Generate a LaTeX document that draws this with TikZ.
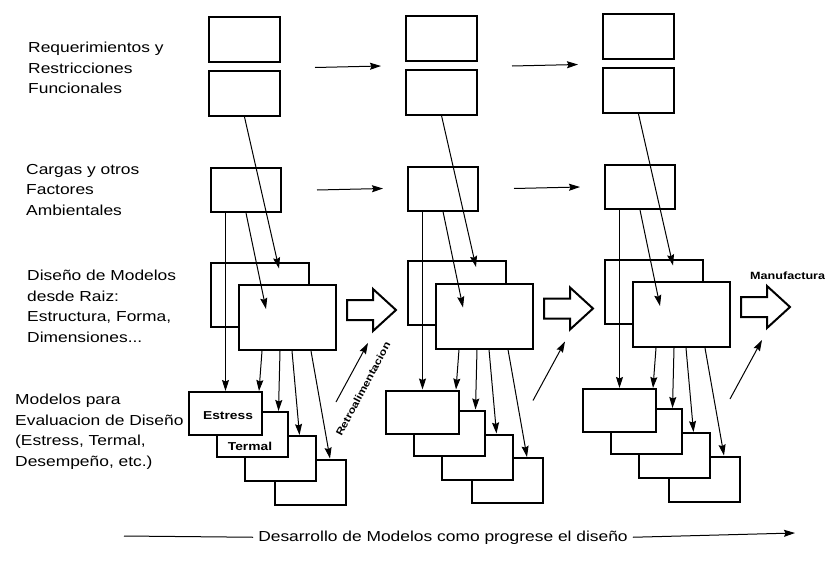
\documentclass[tikz,border=0pt]{standalone}
\usepackage{fontspec}
\newfontfamily\labelfont{Liberation Sans}[FakeStretch=1.2]
\usepackage{tikz}
\usetikzlibrary{calc,arrows.meta}

\begin{document}
\begin{tikzpicture}[x=1pt,y=-1pt,>={Stealth[length=11pt,width=7pt,inset=1.5pt]},
		box/.style={draw,line width=2pt,fill=white,inner sep=0pt,minimum width=71pt,minimum height=45pt},
		big/.style={box,minimum width=98pt,minimum height=64pt},
		link/.style={->,line width=1pt},
		hollow/.style={draw,line width=2pt,line join=miter,fill=white},
		lab/.style={font=\labelfont\fontsize{14.5}{20.5}\selectfont,align=left,inner sep=0pt,anchor=north west},
		tag/.style={font=\labelfont\bfseries\fontsize{11.5}{13}\selectfont,inner sep=0pt},
		]
		\useasboundingbox (0,0) rectangle (825,570);
		
		% textos de la izquierda
		\node[lab] (req) at (28,42) {Requerimientos y\\Restricciones\\Funcionales};
		\node[lab] (carg) at (26,164) {Cargas y otros\\Factores\\Ambientales};
		\node[lab] (dis) at (27,270) {Diseño de Modelos\\desde Raiz:\\Estructura, Forma,\\Dimensiones...};
		\node[lab] (eval) at (15,394) {Modelos para\\Evaluacion de Diseño\\(Estress, Termal,\\Desempeño, etc.)};
		
		% las tres etapas del diseño
		\foreach \c/\ox/\oy in {1/0/0,2/197/-1.5,3/394/-3}{
			\begin{scope}[shift={(\ox,\oy)}]
				% modelos de evaluacion (de atras hacia adelante)
				\node[box] (E4-\c) at (310.5,482) {};
				\node[box] (E3-\c) at (280,458.5) {};
				\node[box] (E2-\c) at (252,434.5) {};
				\node[box,minimum width=73pt,minimum height=43pt] (E1-\c) at (225.5,413.5) {};
				% modelos de diseño
				\node[big] (C1-\c) at (260,294.5) {};
				\node[big,minimum width=97pt,minimum height=65pt] (C2-\c) at (287.5,317.5) {};
				% requerimientos y cargas
				\node[box] (A1-\c) at (244.5,39.5) {};
				\node[box] (A2-\c) at (244.5,93.5) {};
				\node[box,minimum width=70pt,minimum height=44pt] (B-\c) at (246,190) {};
				
				\draw[link] (A2-\c.south) -- ($(C1-\c.north)+(19,7)$);
				\draw[link] (B-\c.south) -- ($(C2-\c.north)+(-21.5,25)$);
				\draw[link] (E1-\c.north |- B-\c.south) -- (E1-\c.north);
				\draw[link] ($(C2-\c.south west)+(24,0)$) -- ($(E1-\c.north east)+(-4,0)$);
				\draw[link] ($(C2-\c.south west)+(42,0)$) -- ($(E2-\c.north east)+(-10,0)$);
				\draw[link] ($(C2-\c.south west)+(54,0)$) -- ($(E3-\c.north east)+(-17,0)$);
				\draw[link] ($(C2-\c.south west)+(73,0)$) -- ($(E4-\c.north east)+(-17,0)$);
				
				% flecha hueca hacia la siguiente etapa
				\draw[hollow] (347,300) -- (373,300) -- (373,289) -- (396,310) -- (373,331)
				-- (373,320) -- (347,320) -- cycle;
				\coordinate (H-\c) at (396,310);
				
				% retroalimentacion
				\coordinate (fb-\c) at (336,402);
				\coordinate (fbt-\c) at (368,343);
				\draw[link] (fb-\c) -- (fbt-\c);
			\end{scope}
		}
		
		% avance entre etapas
		\draw[link] ([xshift=34pt,yshift=-4.5pt]A1-1.south east) -- ([xshift=-24pt,yshift=-4.5pt]A1-2.south west);
		\draw[link] ([xshift=34pt,yshift=-4.5pt]A1-2.south east) -- ([xshift=-24pt,yshift=-4.5pt]A1-3.south west);
		\draw[link] ([xshift=35pt]B-1.east) -- ([xshift=-24pt]B-2.west);
		\draw[link] ([xshift=35pt]B-2.east) -- ([xshift=-24pt]B-3.west);
		
		% etiquetas
		\node[tag] (est) at (228,416) {Estress};
		\node[tag] (ter) at (250,446) {Termal};
		\node[tag,font=\labelfont\bfseries\fontsize{10}{12}\selectfont,rotate=62] (retro) at (363,389) {Retroalimentacion};
		\node[tag,font=\labelfont\bfseries\fontsize{10.5}{12}\selectfont,anchor=base west] (manu) at (750,279) {Manufactura};
		
		% desarrollo de modelos
		\node[lab,anchor=base,inner xsep=5pt] (dev) at (443,541) {Desarrollo de Modelos como progrese el diseño};
		\coordinate (devL) at (124,536);
		\coordinate (devR) at (795,533);
		\draw[line width=1pt] (devL) -- (dev.west);
		\draw[link] (dev.east) -- (devR);
	\end{tikzpicture}
\end{document}
